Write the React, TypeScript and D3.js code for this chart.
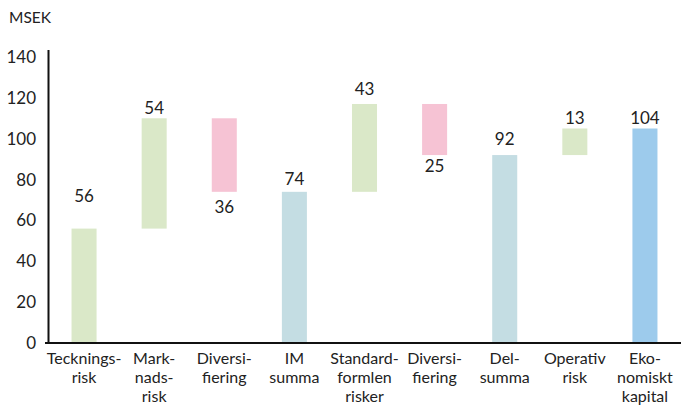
import * as d3 from "d3";

const categories = [
  ["Tecknings-", "risk"],
  ["Mark-", "nads-", "risk"],
  ["Diversi-", "fiering"],
  ["IM", "summa"],
  ["Standard-", "formlen", "risker"],
  ["Diversi-", "fiering"],
  ["Del-", "summa"],
  ["Operativ", "risk"],
  ["Eko-", "nomiskt", "kapital"],
];
// change for each step; null means a subtotal bar
const deltas: Array<number | null> = [56, 54, -36, null, 43, -25, null, 13, null];
const kinds = ["up", "up", "down", "sub", "up", "down", "sub", "up", "total"];
const valueLabels = ["56", "54", "36", "74", "43", "25", "92", "13", "104"];
const yTicks = [0, 20, 40, 60, 80, 100, 120, 140];

const colors: Record<string, string> = {
  up: "#dae8c8",
  down: "#f6c3d4",
  sub: "#c4dde3",
  total: "#9dcbec",
};

export default function App() {
  const width = 684;
  const height = 405;
  const marginLeft = 49;
  const marginRight = 4;
  const y0 = 343;
  const y140 = 57;
  const font = "Lato, 'Open Sans', sans-serif";

  const x = d3
    .scaleBand<number>()
    .domain(d3.range(categories.length))
    .range([marginLeft, width - marginRight])
    .paddingInner(0.643)
    .paddingOuter(0.3215);
  const y = d3.scaleLinear([0, 140], [y0, y140]);

  // running totals -> start/end of each bar
  let run = 0;
  const bars = deltas.map((d, i) => {
    if (d === null) return { i, from: 0, to: run };
    const from = run;
    run += d;
    return { i, from, to: run };
  });

  // label offsets (px) above/below the bar end
  const labelGap = [33, 10, 15, 13, 15, 11, 16, 10, 10];

  return (
    <svg
      width={width}
      height={height}
      style={{ position: "absolute", left: 0, top: 0, fontFamily: font }}
    >
      <text x={9} y={23} fontSize={15.5} fill="#222">
        MSEK
      </text>
      {yTicks.map((t) => (
        <text
          key={t}
          x={36}
          y={y(t)}
          dy="0.35em"
          textAnchor="end"
          fontSize={17}
          fill="#222"
        >
          {t}
        </text>
      ))}
      {bars.map((b) => {
        const top = y(Math.max(b.from, b.to));
        const bottom = y(Math.min(b.from, b.to));
        return (
          <rect
            key={b.i}
            x={x(b.i)}
            y={top}
            width={x.bandwidth()}
            height={bottom - top}
            fill={colors[kinds[b.i]]}
          />
        );
      })}
      {bars.map((b) => {
        const cx = (x(b.i) as number) + x.bandwidth() / 2;
        const down = kinds[b.i] === "down";
        const ly = down
          ? y(b.to) + labelGap[b.i]
          : y(b.to) - labelGap[b.i];
        return (
          <text
            key={b.i}
            x={cx}
            y={ly}
            dy="0.35em"
            textAnchor="middle"
            fontSize={17}
            fill="#222"
          >
            {valueLabels[b.i]}
          </text>
        );
      })}
      <line x1={48.5} x2={48.5} y1={50} y2={y0 + 1} stroke="#111" strokeWidth={2} />
      <line x1={45} x2={681} y1={y0} y2={y0} stroke="#111" strokeWidth={2} />
      {categories.map((lines, i) => (
        <text
          key={i}
          x={(x(i) as number) + x.bandwidth() / 2}
          y={364}
          textAnchor="middle"
          fontSize={16}
          fill="#222"
        >
          {lines.map((l, j) => (
            <tspan key={j} x={(x(i) as number) + x.bandwidth() / 2} dy={j === 0 ? 0 : 19}>
              {l}
            </tspan>
          ))}
        </text>
      ))}
    </svg>
  );
}
